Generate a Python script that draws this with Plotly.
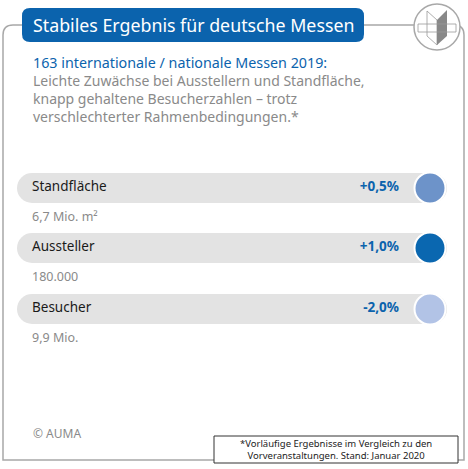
import plotly.graph_objects as go

# Daten
kategorien = ["Standfläche", "Aussteller", "Besucher"]
veraenderung = ["+0,5%", "+1,0%", "-2,0%"]
absolut = ["6,7 Mio. m²", "180.000", "9,9 Mio."]
kreis_farben = ["#6d93c9", "#0a67b0", "#b2c3e6"]

titel = "Stabiles Ergebnis für deutsche Messen"
untertitel = "163 internationale / nationale Messen 2019:"
text_zeilen = ["Leichte Zuwächse bei Ausstellern und Standfläche,",
               "knapp gehaltene Besucherzahlen – trotz",
               "verschlechterter Rahmenbedingungen.*"]
quelle = "© AUMA"
fussnote = "*Vorläufige Ergebnisse im Vergleich zu den<br>Vorveranstaltungen. Stand: Januar 2020"

BLAU = "#0b63ad"
GRAU = "#8a8a8a"
FONT = "Noto Sans"

zeilen_y = [188, 248, 309]

fig = go.Figure()

# graue Balken
fig.add_trace(go.Bar(
    y=zeilen_y, x=[430] * 3, base=17, orientation="h", width=30,
    marker=dict(color="#e3e3e3", line=dict(width=0)),
    hoverinfo="skip", showlegend=False))

# Kreise
fig.add_trace(go.Scatter(
    x=[430] * 3, y=zeilen_y, mode="markers",
    marker=dict(size=31, color=kreis_farben, line=dict(color="white", width=2)),
    hoverinfo="skip", showlegend=False))

# Kategorienamen, Werte, Absolutzahlen
fig.add_trace(go.Scatter(
    x=[32] * 3, y=zeilen_y, mode="text", text=kategorien, textposition="middle right",
    textfont=dict(family=FONT, size=13.5, color="#1a1a1a"), showlegend=False, hoverinfo="skip"))
fig.add_trace(go.Scatter(
    x=[399] * 3, y=zeilen_y, mode="text", text=veraenderung, textposition="middle left",
    textfont=dict(family=FONT, size=13.5, color=BLAU, weight="bold"), showlegend=False, hoverinfo="skip"))
fig.add_trace(go.Scatter(
    x=[32] * 3, y=[y + 30 for y in zeilen_y], mode="text", text=absolut, textposition="middle right",
    textfont=dict(family=FONT, size=12.5, color=GRAU), showlegend=False, hoverinfo="skip"))

shapes = [
    # Rahmen
    dict(type="path", path="M 3,460 L 3,35 Q 3,25 13,25 L 454,25 Q 464,25 464,35 L 464,460 Z",
         line=dict(color="#a8a8a8", width=1.5), fillcolor="white", layer="below"),
    # Titelbox
    dict(type="path", path="M 22,34 L 22,16 Q 22,8 30,8 L 356,8 Q 364,8 364,16 L 364,34 Q 364,42 356,42 L 30,42 Q 22,42 22,34 Z",
         line=dict(width=0), fillcolor=BLAU),
    # Logo
    dict(type="circle", x0=414, y0=4, x1=460, y1=50, line=dict(color="#a8a8a8", width=1.5), fillcolor="white"),
    dict(type="path", path="M 427,11 L 437,20 L 437,45 L 427,36 Z", line=dict(color="#999", width=0.8), fillcolor="white"),
    dict(type="path", path="M 447,10 L 447,36 L 437,45 L 437,20 Z", line=dict(width=0), fillcolor="#888"),
    dict(type="rect", x0=418, y0=24, x1=456, y1=32, line=dict(color="#999", width=0.8), fillcolor="rgba(0,0,0,0)"),
    # Fussnotenbox
    dict(type="rect", x0=214, y0=436, x1=458, y1=463, line=dict(color="#333", width=1), fillcolor="white"),
]

annotations = [
    dict(x=31, y=25, text=titel, showarrow=False, xanchor="left", yanchor="middle",
         font=dict(family=FONT, size=17.8, color="white")),
    dict(x=31, y=62, text=untertitel, showarrow=False, xanchor="left", yanchor="middle",
         font=dict(family=FONT, size=14.3, color=BLAU)),
    dict(x=31, y=433, text=quelle, showarrow=False, xanchor="left", yanchor="middle",
         font=dict(family=FONT, size=12, color=GRAU)),
    dict(x=336, y=449.5, text=fussnote, showarrow=False, xanchor="center", yanchor="middle",
         font=dict(family=FONT, size=9.5, color="#222")),
]
for i, z in enumerate(text_zeilen):
    annotations.append(dict(x=31, y=80 + 18 * i, text=z, showarrow=False, xanchor="left", yanchor="middle",
                            font=dict(family=FONT, size=14, color=GRAU)))

fig.update_layout(
    width=468, height=469, margin=dict(l=0, r=0, t=0, b=0),
    paper_bgcolor="white", plot_bgcolor="rgba(0,0,0,0)",
    xaxis=dict(range=[0, 468], visible=False, fixedrange=True),
    yaxis=dict(range=[469, 0], visible=False, fixedrange=True),
    barcornerradius=15, shapes=shapes, annotations=annotations)

fig.write_html("out.html", config={"displayModeBar": False},
               post_script="document.body.style.margin='0';document.body.style.overflow='hidden';")
